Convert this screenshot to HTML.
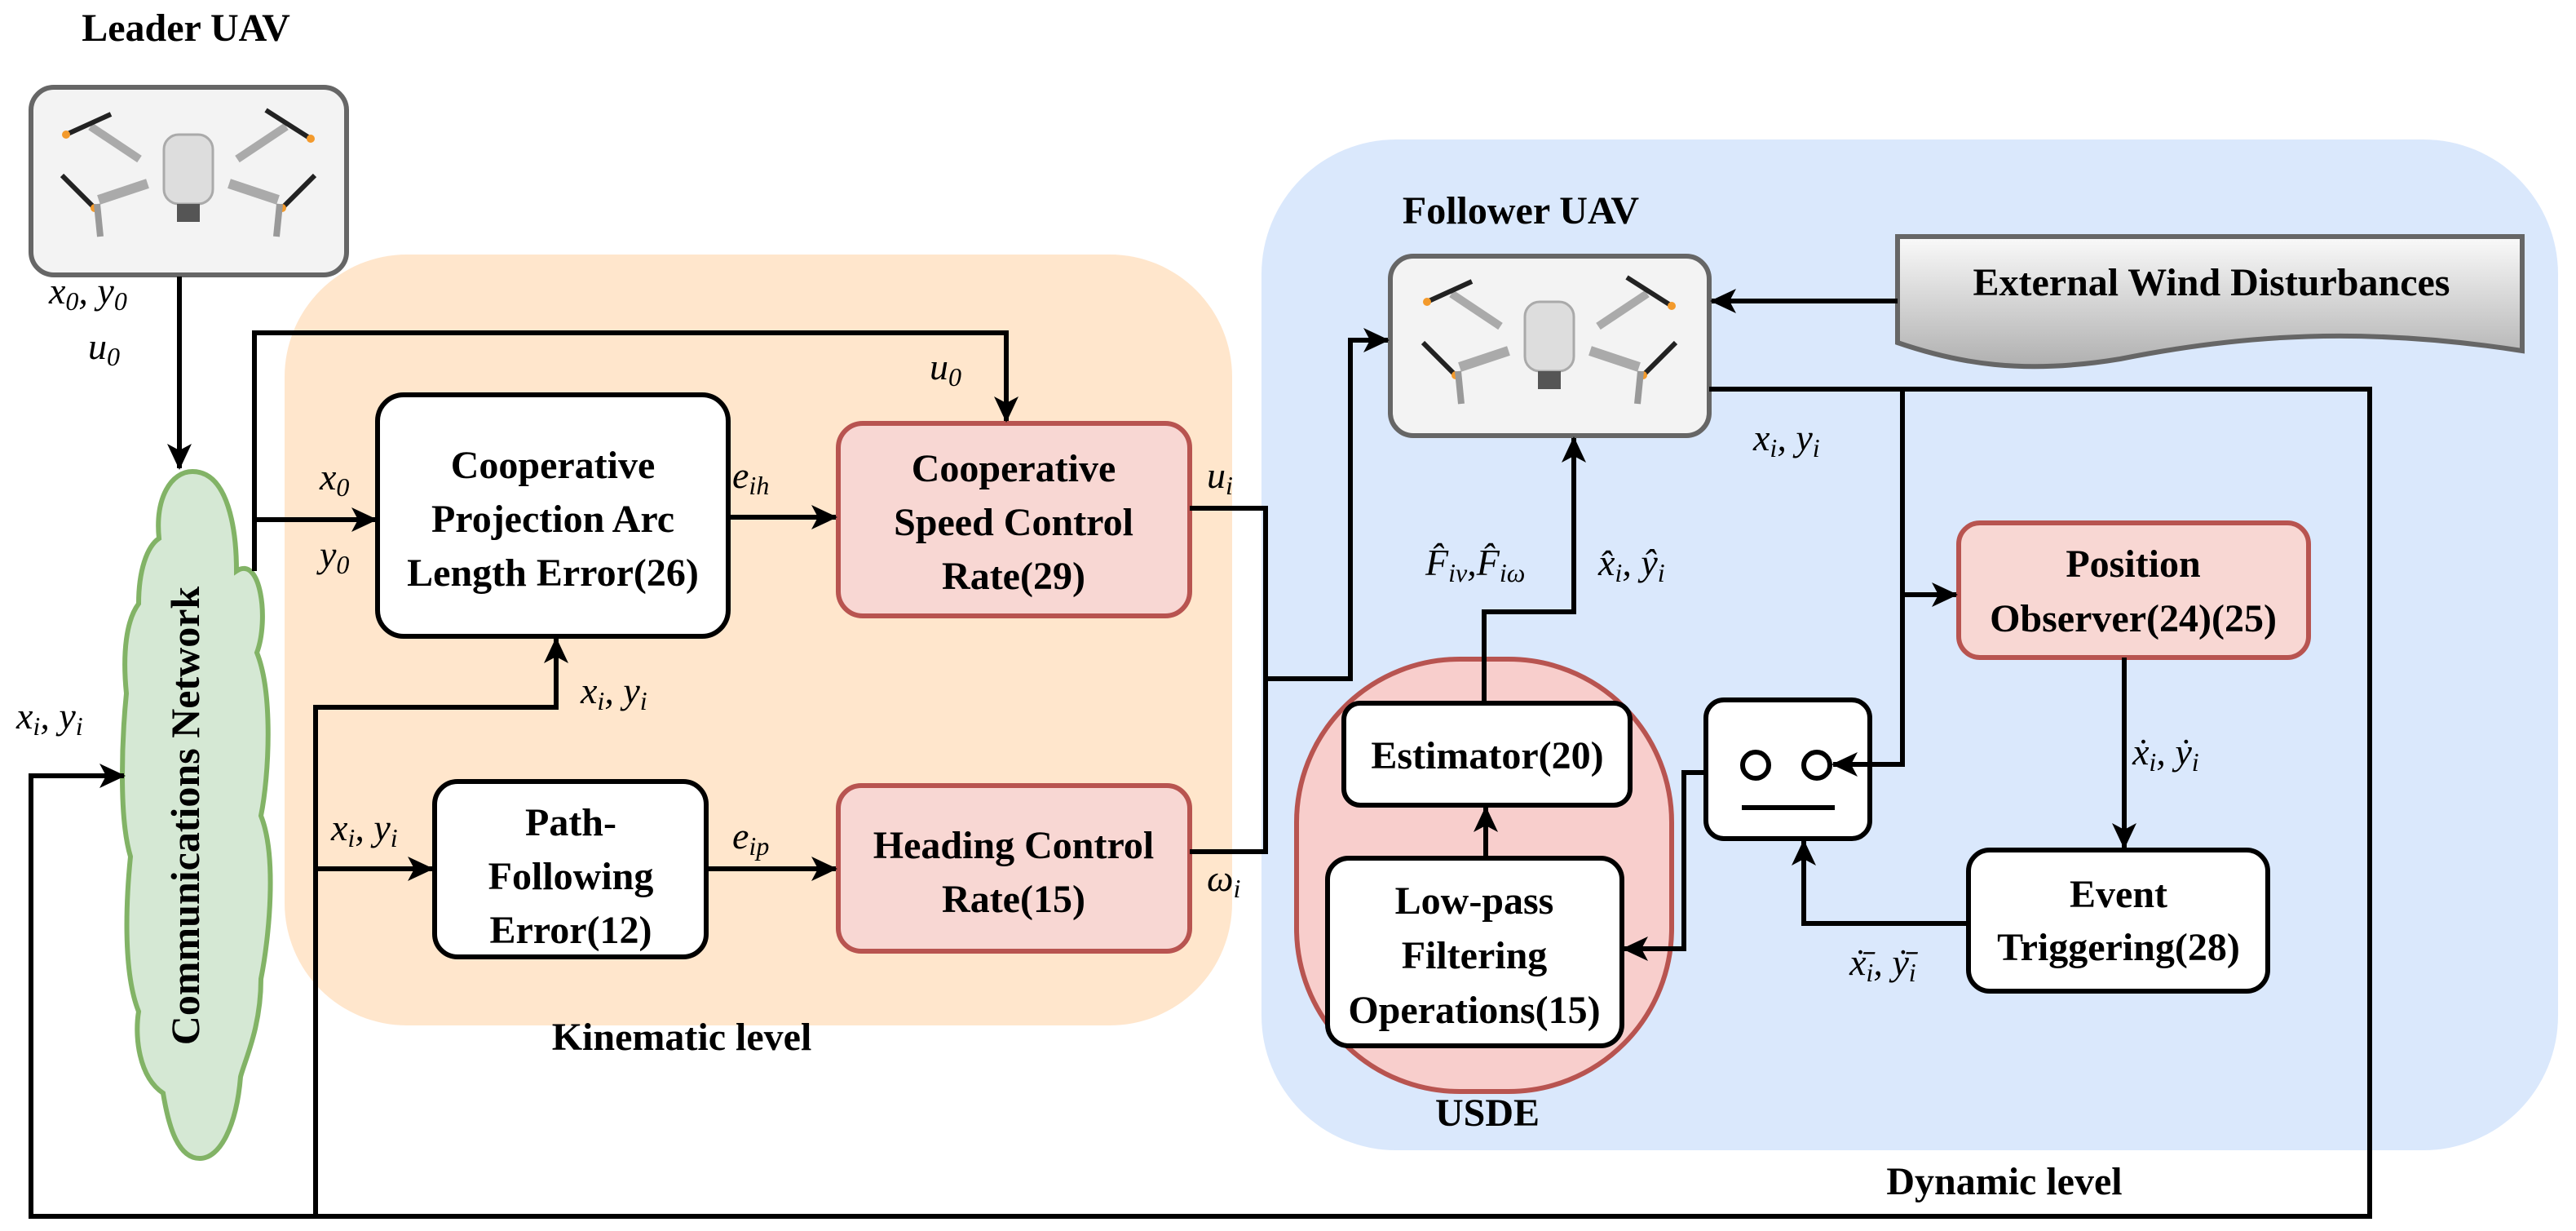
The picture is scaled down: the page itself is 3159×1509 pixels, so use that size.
<!DOCTYPE html>
<html><head><meta charset="utf-8"><style>
html,body{margin:0;padding:0;background:#fff;}
svg{display:block;}
.t{font-family:"Liberation Serif","Times New Roman",serif;}
</style></head><body>
<svg width="3159" height="1509" viewBox="0 0 3159 1509" xmlns="http://www.w3.org/2000/svg">
<defs>
<marker id="a" markerUnits="userSpaceOnUse" markerWidth="34" markerHeight="30" refX="30" refY="15" orient="auto">
<path d="M0,0 L32,15 L0,30 L8,15 z" fill="#000"/>
</marker>
<linearGradient id="g" x1="0" y1="0" x2="0" y2="1"><stop offset="0" stop-color="#fafafa"/><stop offset="1" stop-color="#b0b0b0"/></linearGradient>
<g id="drone">
<line x1="-60" y1="-20" x2="-120" y2="-60" stroke="#aaa" stroke-width="10"/>
<line x1="60" y1="-20" x2="120" y2="-60" stroke="#aaa" stroke-width="10"/>
<line x1="-50" y1="10" x2="-110" y2="30" stroke="#aaa" stroke-width="12"/>
<line x1="50" y1="10" x2="110" y2="30" stroke="#aaa" stroke-width="12"/>
<line x1="-150" y1="-50" x2="-95" y2="-75" stroke="#222" stroke-width="6"/>
<line x1="95" y1="-80" x2="150" y2="-45" stroke="#222" stroke-width="6"/>
<line x1="-155" y1="0" x2="-115" y2="40" stroke="#222" stroke-width="6"/>
<line x1="115" y1="40" x2="155" y2="0" stroke="#222" stroke-width="6"/>
<circle cx="-150" cy="-50" r="5" fill="#f39a2c"/><circle cx="150" cy="-45" r="5" fill="#f39a2c"/>
<circle cx="-115" cy="40" r="5" fill="#f39a2c"/><circle cx="115" cy="40" r="5" fill="#f39a2c"/>
<line x1="-112" y1="35" x2="-108" y2="75" stroke="#999" stroke-width="8"/>
<line x1="112" y1="35" x2="108" y2="75" stroke="#999" stroke-width="8"/>
<rect x="-30" y="-50" width="60" height="85" rx="18" fill="#ddd" stroke="#aaa" stroke-width="3"/>
<rect x="-14" y="35" width="28" height="22" fill="#555"/>
</g>
</defs>

<rect x="349" y="312" width="1162" height="945" rx="150" fill="#ffe6cc"/>
<rect x="1547" y="171" width="1590" height="1239" rx="165" fill="#dae8fc"/>

<rect x="38" y="107" width="387" height="230" rx="28" fill="#f3f3f3" stroke="#666" stroke-width="6"/>
<use href="#drone" x="231" y="215"/>

<path d="M236,578 C280,578 290,650 290,700 C320,680 330,760 315,800 C335,850 330,950 320,1000 C340,1050 330,1150 320,1200 C320,1260 300,1300 295,1320 C290,1380 270,1420 245,1420 C215,1420 205,1370 200,1340 C170,1320 165,1270 170,1240 C150,1190 155,1100 160,1050 C145,1000 150,900 155,850 C150,800 155,760 170,740 C170,700 180,670 195,660 C190,610 210,578 236,578 Z" fill="#d5e8d4" stroke="#82b366" stroke-width="6"/>

<rect x="463" y="484" width="430" height="296" rx="32" fill="#fff" stroke="#000" stroke-width="6"/>
<rect x="1028" y="519" width="431" height="236" rx="30" fill="#f8d7d3" stroke="#b85450" stroke-width="6"/>
<rect x="533" y="958" width="333" height="215" rx="28" fill="#fff" stroke="#000" stroke-width="6"/>
<rect x="1028" y="963" width="431" height="203" rx="28" fill="#f8d7d3" stroke="#b85450" stroke-width="6"/>

<rect x="1705" y="314" width="391" height="220" rx="28" fill="#f3f3f3" stroke="#666" stroke-width="6"/>
<use href="#drone" x="1900" y="420"/>
<path d="M2327,290 H3093 V430 C2900,400 2750,410 2600,440 C2480,460 2400,445 2327,420 Z" fill="url(#g)" stroke="#666" stroke-width="6"/>
<rect x="2402" y="641" width="429" height="165" rx="26" fill="#f8d7d3" stroke="#b85450" stroke-width="6"/>
<rect x="2414" y="1042" width="367" height="173" rx="26" fill="#fff" stroke="#000" stroke-width="6"/>
<rect x="2092" y="858" width="201" height="170" rx="22" fill="#fff" stroke="#000" stroke-width="6"/>
<circle cx="2153" cy="938" r="16" fill="none" stroke="#000" stroke-width="6"/>
<circle cx="2228" cy="938" r="16" fill="none" stroke="#000" stroke-width="6"/>
<line x1="2136" y1="990" x2="2250" y2="990" stroke="#000" stroke-width="6"/>
<rect x="1590" y="808" width="460" height="530" rx="200" fill="#f8cecc" stroke="#b85450" stroke-width="6"/>
<rect x="1648" y="862" width="351" height="125" rx="20" fill="#fff" stroke="#000" stroke-width="6"/>
<rect x="1628" y="1052" width="361" height="230" rx="26" fill="#fff" stroke="#000" stroke-width="6"/>

<g fill="none" stroke="#000" stroke-width="6">
<line x1="220" y1="339" x2="220" y2="574" marker-end="url(#a)"/>
<polyline points="312,700 312,408 1234,408 1234,516" marker-end="url(#a)"/>
<polyline points="312,637 461,637" marker-end="url(#a)"/>
<line x1="894" y1="634" x2="1025" y2="634" marker-end="url(#a)"/>
<polyline points="387,1491 387,867 682,867 682,783" marker-end="url(#a)"/>
<line x1="387" y1="1065" x2="530" y2="1065" marker-end="url(#a)"/>
<line x1="866" y1="1065" x2="1025" y2="1065" marker-end="url(#a)"/>
<polyline points="1459,623 1552,623 1552,1044 1459,1044"/>
<polyline points="1552,832 1656,832 1656,417 1702,417" marker-end="url(#a)"/>
<polyline points="2096,477 2906,477 2906,1491 38,1491 38,951 152,951" marker-end="url(#a)"/>
<line x1="2327" y1="369" x2="2099" y2="369" marker-end="url(#a)"/>
<polyline points="2333,477 2333,937 2248,937" marker-end="url(#a)"/>
<line x1="2333" y1="729" x2="2399" y2="729" marker-end="url(#a)"/>
<line x1="2605" y1="806" x2="2605" y2="1039" marker-end="url(#a)"/>
<polyline points="2414,1132 2212,1132 2212,1031" marker-end="url(#a)"/>
<polyline points="2092,947 2065,947 2065,1163 1991,1163" marker-end="url(#a)"/>
<polyline points="1820,862 1820,750 1930,750 1930,537" marker-end="url(#a)"/>
<line x1="1822" y1="1052" x2="1822" y2="990" marker-end="url(#a)"/>
</g>

<g class="t" font-weight="bold" font-size="48" fill="#000" text-anchor="middle">
<text x="228" y="50">Leader UAV</text>
<text transform="translate(244,1000) rotate(-90)" font-size="50">Communications Network</text>
<text x="678" y="586">Cooperative</text>
<text x="678" y="652">Projection Arc</text>
<text x="678" y="718">Length Error(26)</text>
<text x="1243" y="590">Cooperative</text>
<text x="1243" y="656">Speed Control</text>
<text x="1243" y="722">Rate(29)</text>
<text x="700" y="1024">Path-</text>
<text x="700" y="1090">Following</text>
<text x="700" y="1156">Error(12)</text>
<text x="1243" y="1052">Heading Control</text>
<text x="1243" y="1118">Rate(15)</text>
<text x="836" y="1287">Kinematic level</text>
<text x="1865" y="274">Follower UAV</text>
<text x="2712" y="362">External Wind Disturbances</text>
<text x="2616" y="707">Position</text>
<text x="2616" y="774">Observer(24)(25)</text>
<text x="2598" y="1112">Event</text>
<text x="2598" y="1177">Triggering(28)</text>
<text x="1824" y="942">Estimator(20)</text>
<text x="1808" y="1120">Low-pass</text>
<text x="1808" y="1187">Filtering</text>
<text x="1808" y="1254">Operations(15)</text>
<text x="1824" y="1380">USDE</text>
<text x="2458" y="1464">Dynamic level</text>
</g>

<g class="t" font-style="italic" font-size="46" fill="#000">
<text x="60" y="372">x<tspan font-size="32" dy="8">0</tspan><tspan dy="-8">, y</tspan><tspan font-size="32" dy="8">0</tspan></text>
<text x="108" y="440">u<tspan font-size="32" dy="8">0</tspan></text>
<text x="392" y="600">x<tspan font-size="32" dy="8">0</tspan></text>
<text x="392" y="695">y<tspan font-size="32" dy="8">0</tspan></text>
<text x="1140" y="465">u<tspan font-size="32" dy="8">0</tspan></text>
<text x="898" y="598">e<tspan font-size="32" dy="8">ih</tspan></text>
<text x="898" y="1040">e<tspan font-size="32" dy="8">ip</tspan></text>
<text x="1480" y="598">u<tspan font-size="32" dy="8">i</tspan></text>
<text x="1480" y="1092">ω<tspan font-size="32" dy="8">i</tspan></text>
<text x="712" y="862">x<tspan font-size="32" dy="8">i</tspan><tspan dy="-8">, y</tspan><tspan font-size="32" dy="8">i</tspan></text>
<text x="406" y="1030">x<tspan font-size="32" dy="8">i</tspan><tspan dy="-8">, y</tspan><tspan font-size="32" dy="8">i</tspan></text>
<text x="20" y="893">x<tspan font-size="32" dy="8">i</tspan><tspan dy="-8">, y</tspan><tspan font-size="32" dy="8">i</tspan></text>
<text x="2150" y="552">x<tspan font-size="32" dy="8">i</tspan><tspan dy="-8">, y</tspan><tspan font-size="32" dy="8">i</tspan></text>
<text x="1748" y="705">F̂<tspan font-size="32" dy="8">iv</tspan><tspan dy="-8">,F̂</tspan><tspan font-size="32" dy="8">iω</tspan></text>
<text x="1960" y="705">x̂<tspan font-size="32" dy="8">i</tspan><tspan dy="-8">, ŷ</tspan><tspan font-size="32" dy="8">i</tspan></text>
<text x="2615" y="937">ẋ<tspan font-size="32" dy="8">i</tspan><tspan dy="-8">, ẏ</tspan><tspan font-size="32" dy="8">i</tspan></text>
<text x="2268" y="1195">ẋ̄<tspan font-size="32" dy="8">i</tspan><tspan dy="-8">, ẏ̄</tspan><tspan font-size="32" dy="8">i</tspan></text>
</g>
</svg>
</body></html>
